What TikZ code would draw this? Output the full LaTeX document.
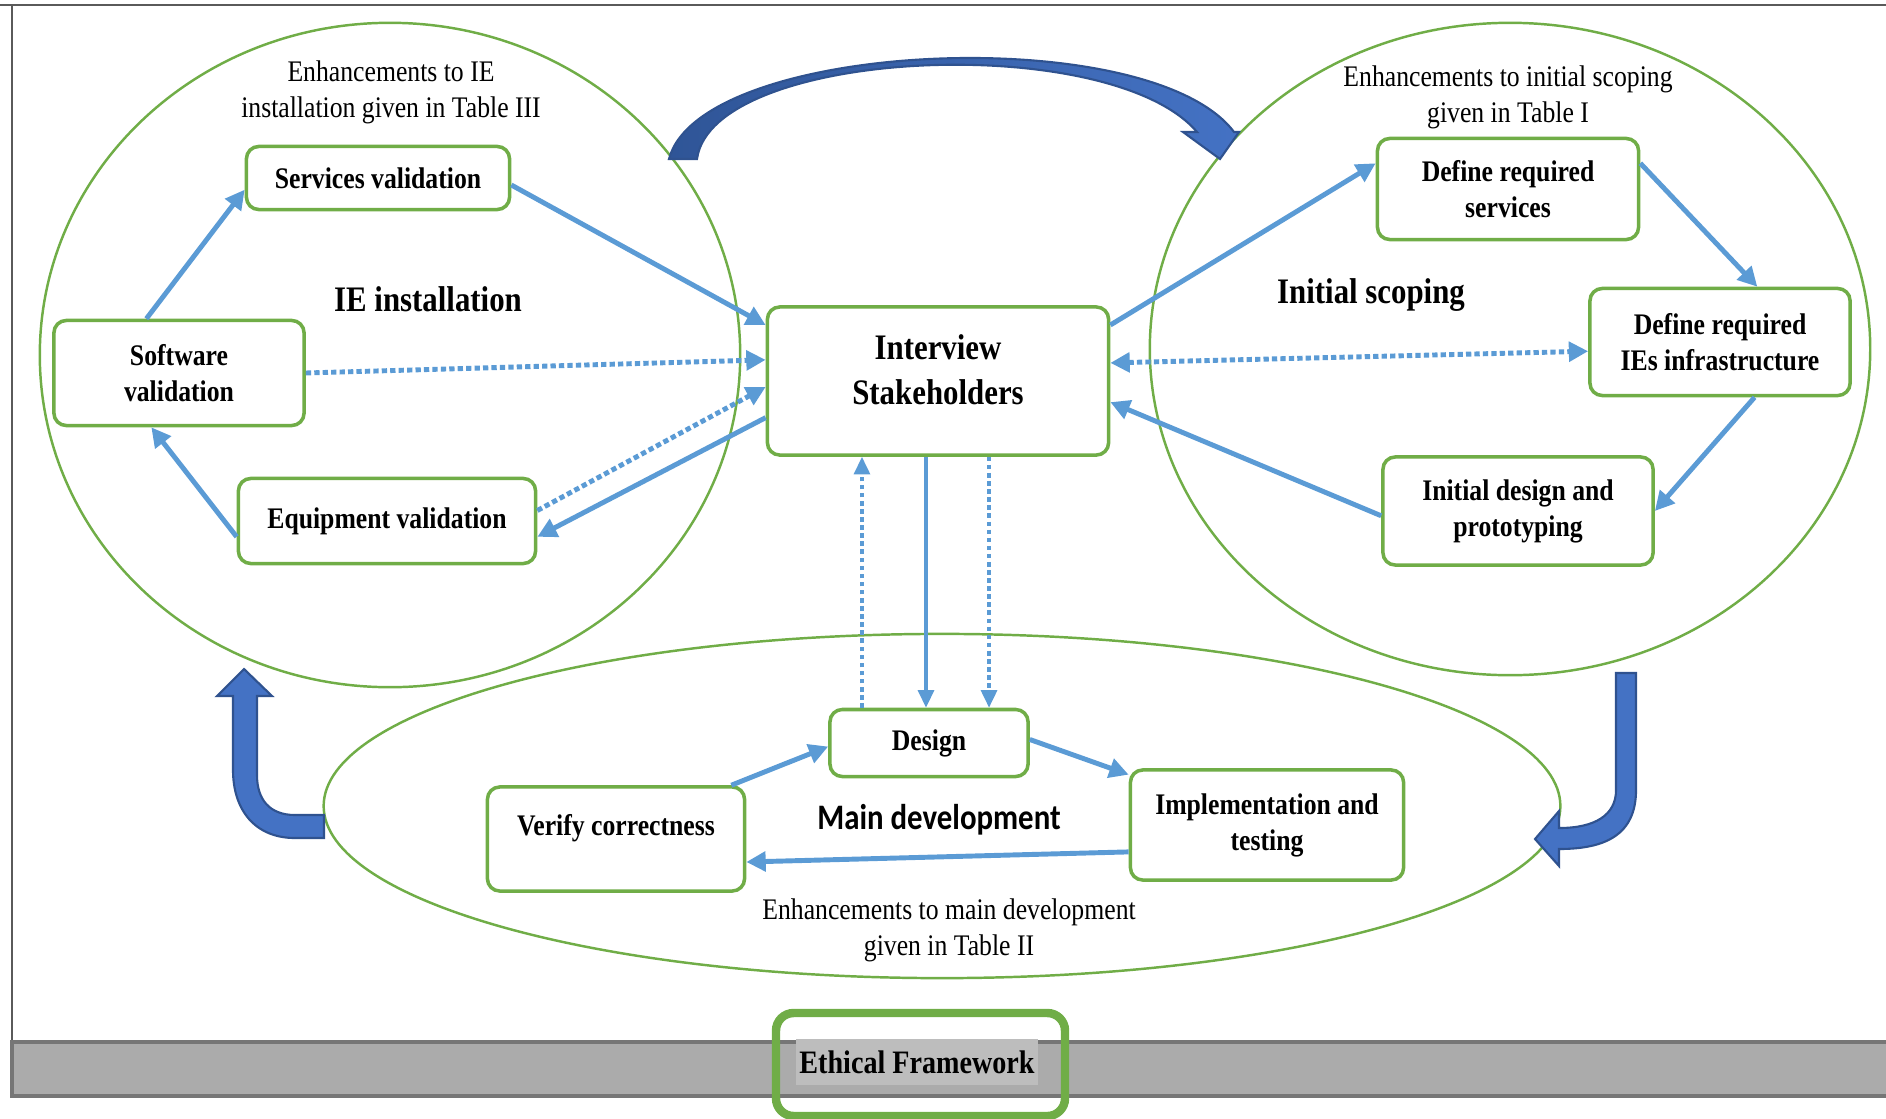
\documentclass[tikz,border=0pt]{standalone}
\usepackage{fontspec}
\setmainfont[FakeStretch=0.86]{Liberation Serif}
\newfontfamily\calibri[FakeStretch=0.86]{Carlito}
\usepackage{xcolor}
\usepackage{tikz}
\usetikzlibrary{arrows.meta}

\definecolor{ringgreen}{HTML}{70AD47}
\definecolor{flowblue}{HTML}{5B9BD5}
\definecolor{blockblue}{HTML}{4472C4}
\definecolor{blockshade}{HTML}{2F5597}
\definecolor{blockdark}{HTML}{2F528F}
\definecolor{framegray}{HTML}{5A5A5A}
\definecolor{barfill}{HTML}{ABABAB}
\definecolor{bargray}{HTML}{767676}
\definecolor{barlight}{HTML}{BDBDBD}

\tikzset{
    ring/.style={draw=ringgreen, line width=0.7pt},
    box/.style={draw=ringgreen, line width=1pt, rounded corners=3.5pt, fill=white,
        align=center, inner sep=1pt, font=\bfseries\fontsize{8.5}{10.2}\selectfont},
    notetext/.style={align=center, font=\fontsize{8.5}{10.2}\selectfont},
    regiontitle/.style={align=center, font=\bfseries\fontsize{10.2}{12.7}\selectfont},
    flow/.style={draw=flowblue, line width=1.4pt, -{Triangle[length=5.5pt,width=5.5pt]}},
    dotflow/.style={flow, dash pattern=on 1.5pt off 0.9pt},
    dotboth/.style={dotflow, {Triangle[length=5.5pt,width=5.5pt]}-{Triangle[length=5.5pt,width=5.5pt]}},
    thinflow/.style={draw=flowblue, line width=1pt, -{Triangle[length=5pt,width=4.5pt]}},
    thindot/.style={thinflow, dash pattern=on 1.3pt off 1pt},
    block/.style={draw=blockdark, line width=0.6pt, fill=blockblue},
}

\begin{document}
\begin{tikzpicture}[x=0.01cm, y=-0.01cm]
        \useasboundingbox (0,0) rectangle (1886,1118);

        % frame and bar
        \draw[framegray, line width=0.7pt] (0,5) -- (1886,5);
        \draw[framegray, line width=0.7pt] (12,5) -- (12,1042);
        \draw[draw=bargray, fill=barfill, line width=1pt] (12,1042) rectangle (1895,1096);

        % the three stages
        \draw[ring] (390,355) ellipse [x radius=3.5cm, y radius=3.32cm];
        \draw[ring] (1510,349) ellipse [x radius=3.6cm, y radius=3.26cm];
        \draw[ring] (942,806) ellipse [x radius=6.18cm, y radius=1.72cm];

        % big arrows between stages
        \path[draw=blockdark, line width=0.6pt, left color=blockshade, right color=blockblue]
            (669,159) .. controls (700,40) and (1150,20) .. (1234,132) -- (1239,132)
            -- (1220,159) -- (1183,132) -- (1197,132)
            .. controls (1110,30) and (712,48) .. (697,159) -- cycle;
        \path[block] (1616,673) -- (1636,673) -- (1636,790)
            .. controls (1636,835) and (1605,849) .. (1559,849) -- (1559,866)
            -- (1535,839) -- (1559,811) -- (1559,828)
            .. controls (1595,828) and (1616,815) .. (1616,790) -- cycle;
        \path[block] (324,815) -- (324,838) -- (295,838)
            .. controls (255,838) and (233,810) .. (233,770) -- (233,696)
            -- (217,696) -- (244,669) -- (272,696) -- (257,696) -- (257,775)
            .. controls (257,800) and (270,815) .. (295,815) -- cycle;

        % region texts
        \node[notetext] (enh1) at (391,92) {Enhancements to IE\\installation given in Table III};
        \node[notetext] (enh2) at (1508,97) {Enhancements to initial scoping\\given in Table I};
        \node[notetext] (enh3) at (949,930) {Enhancements to main development\\given in Table II};
        \node[regiontitle] (t1) at (428,299) {IE installation};
        \node[regiontitle] (t2) at (1371,295) {Initial scoping};
        \node[font=\calibri\bfseries\fontsize{10.2}{12}\selectfont] (t3) at (939,820) {Main development};

        % IE installation
        \node[box, minimum width=2.63cm, minimum height=0.63cm] (serv) at (378,178) {Services validation};
        \node[box, minimum width=2.5cm, minimum height=1.05cm] (soft) at (179,373) {Software\\validation};
        \node[box, minimum width=2.97cm, minimum height=0.85cm] (equip) at (387,521) {Equipment validation};

        % centre
        \node[box, minimum width=3.41cm, minimum height=1.48cm] (inter) at (938,381) {};
        \node[regiontitle] (intertxt) at ([yshift=0.11cm]inter.center) {Interview\\Stakeholders};

        % Initial scoping
        \node[box, minimum width=2.61cm, minimum height=1.01cm] (defserv) at (1508,189) {Define required\\services};
        \node[box, minimum width=2.6cm, minimum height=1.07cm] (definfra) at (1720,342) {Define required\\IEs infrastructure};
        \node[box, minimum width=2.7cm, minimum height=1.08cm] (initdes) at (1518,511) {Initial design and\\prototyping};

        % Main development
        \node[box, minimum width=1.98cm, minimum height=0.67cm] (design) at (929,743) {Design};
        \node[box, minimum width=2.57cm, minimum height=1.04cm] (verify) at (616,839) {};
        \node[box, draw=none, fill=none] (verifytxt) at ([yshift=0.11cm]verify.center) {Verify correctness};
        \node[box, minimum width=2.73cm, minimum height=1.1cm] (impl) at (1267,825) {Implementation and\\testing};

        % ethical framework
        \node[fill=barlight, inner xsep=1pt, minimum height=0.36cm,
            font=\bfseries\fontsize{9.3}{11}\selectfont] (ethic) at (917,1062) {Ethical Framework};
        \draw[draw=ringgreen, line width=2.4pt, rounded corners=5pt] (776,1013) rectangle (1065,1116);

        \draw[flow] (soft.121) -- (serv.185);
        \draw[flow] (serv.-3) -- (inter.162);
        \draw[dotflow] (soft.east) -- (inter.173);
        \draw[dotflow] (equip.4) -- (inter.182);
        \draw[flow] (inter.192) -- (equip.-6);
        \draw[flow] (equip.186) -- (soft.-117);

        \draw[flow] (inter.18) -- (defserv.169);
        \draw[flow] (defserv.11) -- (definfra.56);
        \draw[flow] (definfra.-58) -- (initdes.east);
        \draw[flow] (initdes.182) -- (inter.-7);
        \draw[dotboth] (inter.6) -- (definfra.184);

        \draw[thindot] ([xshift=-0.67cm]design.north) -- ([xshift=-0.67cm]design.north |- inter.south);
        \draw[thinflow] ([xshift=-0.03cm]design.north |- inter.south) -- ([xshift=-0.03cm]design.north);
        \draw[thindot] ([xshift=0.6cm]design.north |- inter.south) -- ([xshift=0.6cm]design.north);

        \draw[flow] (verify.25) -- (design.182);
        \draw[flow] (design.2) -- (impl.160);
        \draw[flow] (impl.191) -- (verify.-10);
\end{tikzpicture}
\end{document}
